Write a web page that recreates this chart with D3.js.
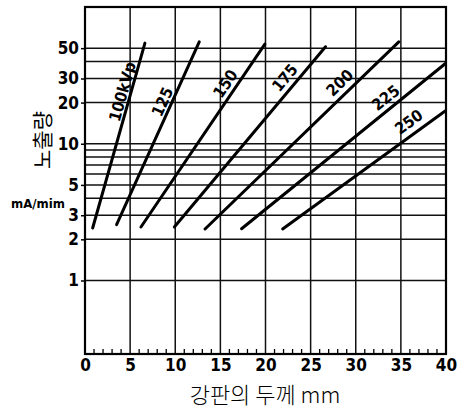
<!DOCTYPE html>
<html><head><meta charset="utf-8">
<script src="https://cdn.jsdelivr.net/npm/d3@7"></script>
<style>body{margin:0;background:#fff}</style>
</head><body><svg id="c" width="463" height="408"></svg>
<script>
const kvpLabels = ["100kVp","125","150","175","200","225","250"];
const thickStart = [0.85, 3.5, 6.2, 9.9, 13.3, 17.35, 21.9];
const thickEnd   = [6.64, 12.66, 19.93, 26.65, 34.77, 39.94, 39.87];
const doseStart  = [2.42, 2.56, 2.46, 2.46, 2.38, 2.39, 2.38];
const doseEnd    = [54.4, 55.6, 53.5, 51.2, 55.6, 38.6, 17.3];
const yTickValues = [1,2,3,5,10,20,30,50];
const yGridValues = [1,2,3,4,5,6,7,8,9,10,20,30,40,50];
const xTickValues = [0,5,10,15,20,25,30,35,40];
const labelAlong  = [0.725,0.652,0.751,0.788,0.737,0.741,0.823];
const labelOffset = [8.4,8.8,10.4,11.2,11.5,10.9,12.4];

const svg = d3.select("#c");
const x = d3.scaleLinear([0,40],[85,446]);
const y = d3.scaleLog([0.29,100],[354,7]);
const numFont = "'DejaVu Sans Condensed','DejaVu Sans',sans-serif";

// horizontal grid
svg.append("g").selectAll("line").data(yGridValues).join("line")
  .attr("x1",x(0)).attr("x2",x(40)).attr("y1",d=>y(d)).attr("y2",d=>y(d))
  .attr("stroke","#111").attr("stroke-width",1.5);
// vertical grid
svg.append("g").selectAll("line").data(xTickValues.filter(d=>d>0&&d<40)).join("line")
  .attr("x1",d=>x(d)).attr("x2",d=>x(d)).attr("y1",y(100)).attr("y2",y(0.29))
  .attr("stroke","#111").attr("stroke-width",1.5);

// frame
svg.append("rect").attr("x",x(0)).attr("y",y(100)).attr("width",x(40)-x(0)).attr("height",y(0.29)-y(100))
  .attr("fill","none").attr("stroke","#000").attr("stroke-width",2.2);

// axes
const yAxis = d3.axisLeft(y).tickValues(yTickValues).tickFormat(d3.format("d")).tickSize(4).tickPadding(2);
const gy = svg.append("g").attr("transform",`translate(${x(0)},0)`).call(yAxis);
gy.select(".domain").remove();
gy.selectAll("line").attr("stroke","#000").attr("stroke-width",1.5);
gy.selectAll("text").attr("font-family",numFont).attr("font-size",17).attr("font-weight","bold").attr("fill","#000");

const xAxis = d3.axisBottom(x).tickValues(xTickValues).tickFormat(d3.format("d")).tickSize(0).tickPadding(5);
const gx = svg.append("g").attr("transform",`translate(0,${y(0.29)})`).call(xAxis);
gx.select(".domain").remove();
gx.selectAll("text").attr("font-family",numFont).attr("font-size",17).attr("font-weight","bold").attr("fill","#000");

// minor ticks
svg.append("g").selectAll("line").data(d3.range(1,40).filter(d=>d%5!==0)).join("line")
  .attr("x1",d=>x(d)).attr("x2",d=>x(d)).attr("y1",y(0.29)).attr("y2",y(0.29)-5)
  .attr("stroke","#000").attr("stroke-width",1.3);

// series lines
const series = kvpLabels.map((k,i)=>({k, pts:[[thickStart[i],doseStart[i]],[thickEnd[i],doseEnd[i]]], t:labelAlong[i], off:labelOffset[i]}));
const line = d3.line().x(d=>x(d[0])).y(d=>y(d[1]));
svg.append("g").selectAll("path").data(series).join("path")
  .attr("d",d=>line(d.pts)).attr("fill","none").attr("stroke","#000").attr("stroke-width",3).attr("stroke-linecap","round");

// labels
svg.append("g").selectAll("text").data(series).join("text")
  .each(function(d){
    const ax=x(d.pts[0][0]), ay=y(d.pts[0][1]), bx=x(d.pts[1][0]), by=y(d.pts[1][1]);
    const dx=bx-ax, dy=by-ay, len=Math.hypot(dx,dy);
    const fx=ax+d.t*dx, fy=ay+d.t*dy;
    const cx=fx+d.off*dy/len, cy=fy-d.off*dx/len;
    const ang=Math.atan2(dy,dx)*180/Math.PI;
    d3.select(this).attr("transform",`translate(${cx},${cy}) rotate(${ang})`);
  })
  .attr("text-anchor","middle").attr("dominant-baseline","central")
  .attr("font-family",numFont).attr("font-size",16).attr("font-weight","bold").attr("fill","#000")
  .text(d=>d.k);

// axis titles
svg.append("text").attr("x",265).attr("y",403).attr("text-anchor","middle")
  .attr("font-family","'Noto Sans CJK KR',sans-serif").attr("font-size",22).attr("font-weight",300).attr("fill","#000")
  .text("강판의 두께 mm");
svg.append("text").attr("transform","translate(41,140) rotate(-90)").attr("text-anchor","middle").attr("dominant-baseline","central")
  .attr("font-family","'Noto Sans CJK KR',sans-serif").attr("font-size",21).attr("font-weight",400).attr("fill","#000")
  .text("노출량");
svg.append("text").attr("x",38).attr("y",208).attr("text-anchor","middle")
  .attr("font-family",numFont).attr("font-size",13).attr("font-weight","bold").attr("fill","#000")
  .text("mA/mim");
</script></body></html>
